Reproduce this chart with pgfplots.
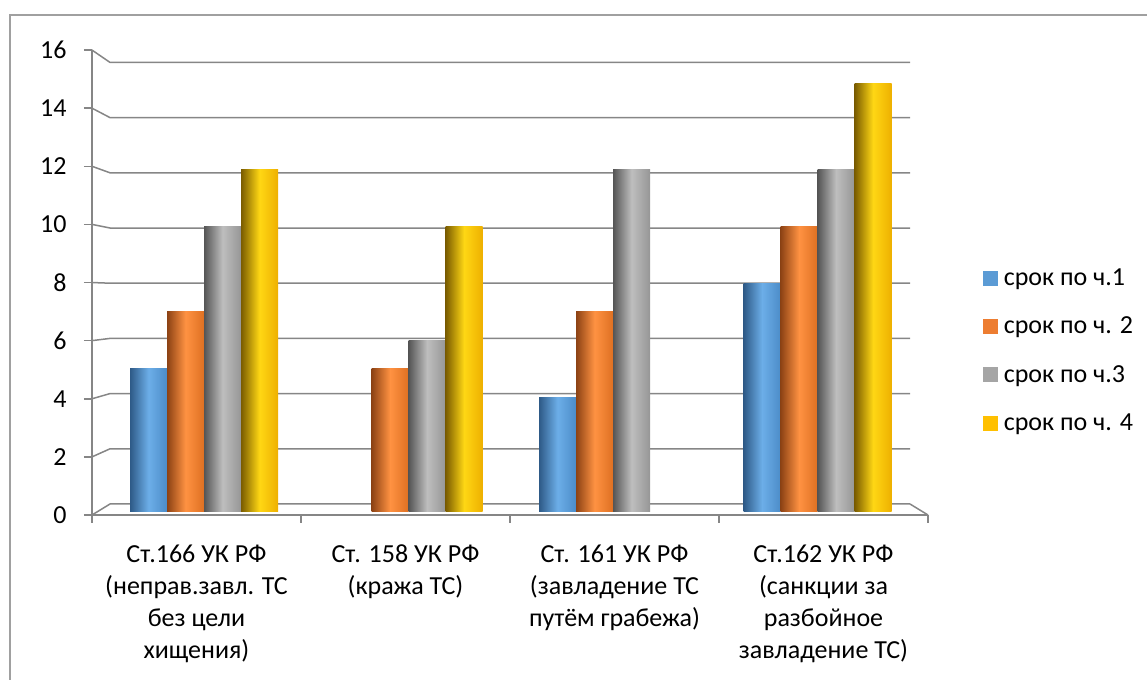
\documentclass[border=0pt]{standalone}
\usepackage{pgfplots}
\pgfplotsset{compat=1.18}
\usepackage{fontspec}
\setmainfont{Carlito}
\definecolor{gridc}{RGB}{134,134,134}
\definecolor{frame}{RGB}{160,160,160}
\definecolor{c1}{RGB}{91,155,213}
\definecolor{c2}{RGB}{237,125,49}
\definecolor{c3}{RGB}{165,165,165}
\definecolor{c4}{RGB}{255,192,0}
\definecolor{c1l}{RGB}{46,90,135}\definecolor{c1m}{RGB}{108,174,232}\definecolor{c1r}{RGB}{76,140,200}
\definecolor{c2l}{RGB}{140,66,20}\definecolor{c2m}{RGB}{255,146,66}\definecolor{c2r}{RGB}{222,112,34}
\definecolor{c3l}{RGB}{85,85,85}\definecolor{c3m}{RGB}{190,190,190}\definecolor{c3r}{RGB}{150,150,150}
\definecolor{c4l}{RGB}{122,92,0}\definecolor{c4m}{RGB}{255,215,20}\definecolor{c4r}{RGB}{238,176,0}
\pgfplotsset{
  s1/.style={ybar, bar width=37bp, bar shift=-55.5bp, draw=none, forget plot, left color=c1l, right color=c1r, middle color=c1m},
  s2/.style={ybar, bar width=37bp, bar shift=-18.5bp, draw=none, forget plot, left color=c2l, right color=c2r, middle color=c2m},
  s3/.style={ybar, bar width=37bp, bar shift=18.5bp, draw=none, forget plot, left color=c3l, right color=c3r, middle color=c3m},
  s4/.style={ybar, bar width=37bp, bar shift=55.5bp, draw=none, forget plot, left color=c4l, right color=c4r, middle color=c4m},
}
\begin{document}
\begin{tikzpicture}[font={\fontsize{26bp}{32bp}\selectfont}]
\path[use as bounding box] (0,0) rectangle (1147bp,680bp);
\draw[frame, line width=1.5bp] (10bp,0) -- (10bp,665bp) -- (1147bp,665bp);
\begin{axis}[
  at={(92bp,165bp)}, anchor=south west,
  scale only axis, width=836bp, height=465bp,
  xmin=-0.548, xmax=3.540, ymin=-0.123, ymax=16.193,
  clip=false,
  axis lines*=left,
  axis line style={gridc, line width=1.5bp},
  tick style={gridc, line width=1.5bp},
  tick align=outside, major tick length=8bp,
  ytick={-0.123,1.916,3.955,5.995,8.034,10.073,12.112,14.151,16.191},
  yticklabels={0,2,4,6,8,10,12,14,16},
  yticklabel style={xshift=-14bp},
  xtick={-0.548,0.474,1.496,2.518,3.540},
  xticklabels={},
  extra x ticks={-0.037,0.985,2.007,3.029},
  extra x tick labels={{Ст.166 УК РФ\\(неправ.завл. ТС\\без цели\\хищения)},{Ст. 158 УК РФ\\(кража ТС)},{Ст. 161 УК РФ\\(завладение ТС\\путём грабежа)},{Ст.162 УК РФ\\(санкции за\\разбойное\\завладение ТС)}},
  extra x tick style={major tick length=0pt, xticklabel style={align=center, yshift=-26bp}},
  /pgf/number format/assume math mode=true,
  legend style={at={(1.066,0.354)}, anchor=west, draw=none, fill=none,
    row sep=18bp, inner sep=0pt, nodes={inner sep=6bp}},
  legend cell align=left,
]
\addlegendimage{legend image code/.code={\fill[c1] (0bp,-7bp) rectangle (14bp,7bp);}}
\addlegendimage{legend image code/.code={\fill[c2] (0bp,-7bp) rectangle (14bp,7bp);}}
\addlegendimage{legend image code/.code={\fill[c3] (0bp,-7bp) rectangle (14bp,7bp);}}
\addlegendimage{legend image code/.code={\fill[c4] (0bp,-7bp) rectangle (14bp,7bp);}}
\pgfplotsinvokeforeach{0,2,4,6,8,10,12,14,16}{
  \draw[gridc, line width=1.5bp] (axis cs:-0.548,{-0.123+1.0196*#1}) -- (axis cs:-0.460,{0.263+0.9684*#1}) -- (axis cs:3.452,{0.263+0.9684*#1});
}
\draw[gridc, line width=1.5bp] (axis cs:3.452,0.263) -- (axis cs:3.540,-0.123);
% series 1: срок по ч.1
\addplot[s1] coordinates {(0,5)};
\addplot[s1] coordinates {(2,4)};
\addplot[s1] coordinates {(3,8)};
% series 2: срок по ч. 2
\addplot[s2] coordinates {(0,7)};
\addplot[s2] coordinates {(1,5)};
\addplot[s2] coordinates {(2,7)};
\addplot[s2] coordinates {(3,10)};
% series 3: срок по ч.3
\addplot[s3] coordinates {(0,10)};
\addplot[s3] coordinates {(1,6)};
\addplot[s3] coordinates {(2,12)};
\addplot[s3] coordinates {(3,12)};
% series 4: срок по ч. 4
\addplot[s4] coordinates {(0,12)};
\addplot[s4] coordinates {(1,10)};
\addplot[s4] coordinates {(3,15)};
\legend{срок по ч.1, срок по ч. 2, срок по ч.3, срок по ч. 4}
\end{axis}
\end{tikzpicture}
\end{document}
